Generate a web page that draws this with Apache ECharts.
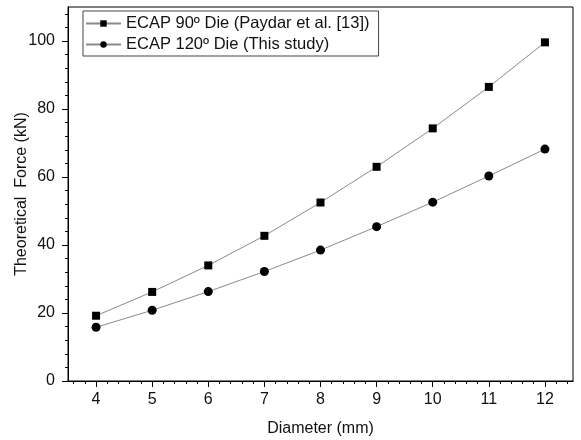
<!DOCTYPE html>
<html>
<head>
<meta charset="utf-8">
<script src="https://cdn.jsdelivr.net/npm/echarts@6/dist/echarts.min.js"></script>
<style>
    html, body { margin: 0; padding: 0; background: #fff; }
    #chart { width: 581px; height: 440px; }
</style>
</head>
<body>
<div id="chart"></div>
<script>
// diameter values (mm)
var diameters = [4, 5, 6, 7, 8, 9, 10, 11, 12];
// ECAP 90 die, Paydar et al.
var force90 = [19.2, 26.2, 34.0, 42.7, 52.5, 63.0, 74.3, 86.5, 99.6];
// ECAP 120 die, this study
var force120 = [15.8, 20.8, 26.3, 32.2, 38.5, 45.4, 52.6, 60.3, 68.2];
var xTicks = [4, 5, 6, 7, 8, 9, 10, 11, 12];
var yTicks = [0, 20, 40, 60, 80, 100];

// minor ticks, 4 between each pair of majors
var xMinor = [];
for (var i = 36; i <= 124; i += 2) {
    if (i % 10 != 0) xMinor.push(i / 10);
}
var yMinor = [];
for (var j = 4; j <= 110; j += 4) {
    if (j % 20 != 0) yMinor.push(j);
}

var font = 'Liberation Sans, Arial, sans-serif';
var myChart = echarts.init(document.getElementById('chart'));

function minorAxis(base, values) {
    return echarts.util.merge({
        axisTick: { show: true, inside: false, length: 3, customValues: values, lineStyle: { color: '#000' } },
        axisLabel: { show: true, customValues: values, formatter: function () { return ''; } }
    }, base, true);
}

var baseX = {
    type: 'value',
    min: 3.5,
    max: 12.5,
    position: 'bottom',
    splitLine: { show: false },
    axisLine: { show: true, lineStyle: { color: '#000', width: 1 } }
};
var baseY = {
    type: 'value',
    min: 0,
    max: 110,
    position: 'left',
    splitLine: { show: false },
    axisLine: { show: true, lineStyle: { color: '#000', width: 1 } }
};

option = {
    backgroundColor: '#fff',
    animation: false,
    grid: {
        show: true,
        left: 68,
        right: 8,
        top: 7,
        bottom: 59,
        outerBoundsMode: 'none',
        containLabel: false,
        borderColor: '#000',
        borderWidth: 1,
        backgroundColor: 'transparent'
    },
    legend: {
        orient: 'vertical',
        left: 83,
        top: 11,
        padding: [4, 9, 3, 2],
        itemGap: 4,
        itemWidth: 35,
        itemHeight: 8,
        borderColor: '#444',
        borderWidth: 1,
        textStyle: { fontFamily: font, fontSize: 16.5, color: '#111' },
        data: ['ECAP 90º Die (Paydar et al. [13])', 'ECAP 120º Die (This study)']
    },
    xAxis: [
        echarts.util.merge({
            name: 'Diameter (mm)',
            nameLocation: 'middle',
            nameGap: 40,
            nameMoveOverlap: false,
            nameTextStyle: { fontFamily: font, fontSize: 16, color: '#111' },
            axisTick: { show: true, inside: false, length: 6, customValues: xTicks, lineStyle: { color: '#000' } },
            axisLabel: { customValues: xTicks, fontFamily: font, fontSize: 16, color: '#111', margin: 11 }
        }, baseX, true),
        minorAxis(baseX, xMinor)
    ],
    yAxis: [
        echarts.util.merge({
            name: 'Theoretical  Force (kN)',
            nameLocation: 'middle',
            nameGap: 38,
            nameMoveOverlap: false,
            nameTextStyle: { fontFamily: font, fontSize: 16, color: '#111' },
            axisTick: { show: true, inside: false, length: 6, customValues: yTicks, lineStyle: { color: '#000' } },
            axisLabel: { customValues: yTicks, fontFamily: font, fontSize: 16, color: '#111', margin: 13 }
        }, baseY, true),
        minorAxis(baseY, yMinor)
    ],
    series: [
        {
            name: 'ECAP 90º Die (Paydar et al. [13])',
            type: 'line',
            data: diameters.map(function (d, k) { return [d, force90[k]]; }),
            symbol: 'rect',
            symbolSize: 8,
            itemStyle: { color: '#000' },
            lineStyle: { color: '#8a8a8a', width: 1 }
        },
        {
            name: 'ECAP 120º Die (This study)',
            type: 'line',
            data: diameters.map(function (d, k) { return [d, force120[k]]; }),
            symbol: 'circle',
            symbolSize: 9,
            itemStyle: { color: '#000' },
            lineStyle: { color: '#8a8a8a', width: 1 }
        },
        {
            // empty, only keeps the minor-tick axes alive
            type: 'line',
            xAxisIndex: 1,
            yAxisIndex: 1,
            data: [],
            silent: true
        }
    ]
};
myChart.setOption(option);
</script>
</body>
</html>
